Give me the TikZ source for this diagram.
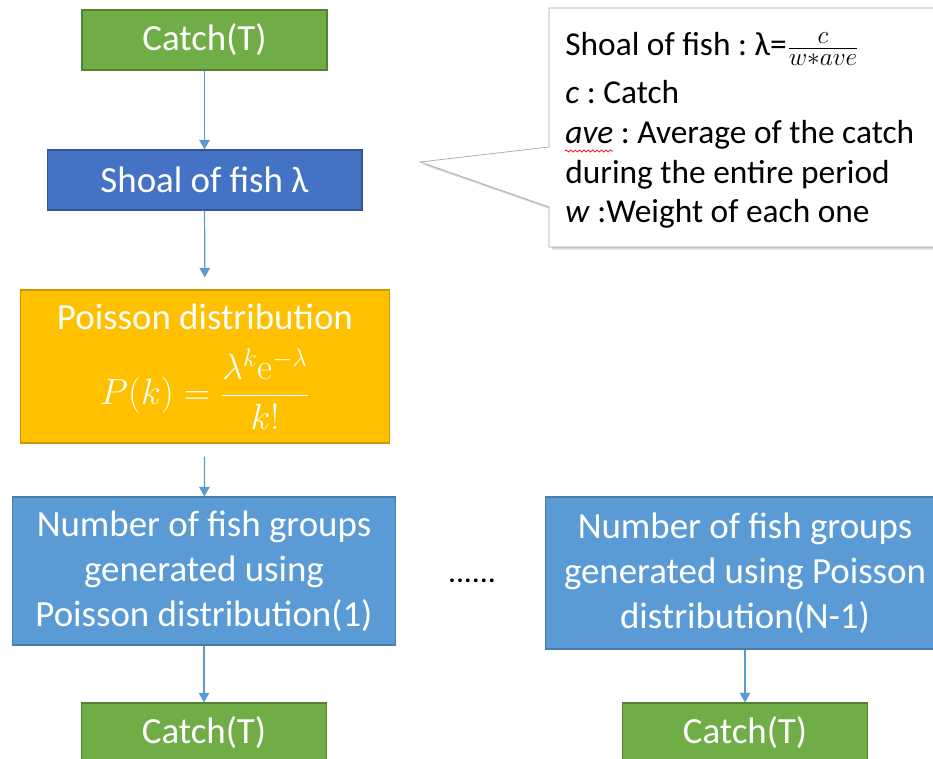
\documentclass[tikz,border=0pt]{standalone}
\usepackage{fontspec}
\setmainfont{Carlito}
\setmathrm{Latin Modern Roman}
\usetikzlibrary{arrows.meta,shadows,decorations.pathmorphing}

\definecolor{catchgreen}{HTML}{70AD47}
\definecolor{shoalblue}{HTML}{4472C4}
\definecolor{poissongold}{HTML}{FFC000}
\definecolor{groupblue}{HTML}{5B9BD5}

\tikzset{
	box/.style={draw, line width=0.6pt, text=white, align=center, inner sep=0pt,
		font=\fontsize{21}{25.5}\selectfont},
	catchbox/.style={box, fill=catchgreen, draw=catchgreen!75!black, minimum width=4.9cm, minimum height=1.2cm},
	shoalbox/.style={box, fill=shoalblue, draw=shoalblue!75!black, minimum width=6.3cm, minimum height=1.2cm},
	poissonbox/.style={box, fill=poissongold, draw=poissongold!80!black, minimum width=7.4cm, minimum height=3.06cm},
	groupbox/.style={box, fill=groupblue, draw=groupblue!80!black, minimum width=7.68cm, minimum height=2.96cm},
	link/.style={->, >={Triangle[length=5.5pt,width=6pt]}, groupblue, line width=0.7pt},
}

\begin{document}
\frenchspacing
\begin{tikzpicture}[x=0.02cm,y=-0.02cm]
	\useasboundingbox (0,0) rectangle (933,759);

	%LEFT COLUMN
	\node[catchbox] (catchtop) at (204.5,40) {Catch(T)};
	\node[shoalbox] (shoal) at (204.5,180) {Shoal of fish λ};
	\node[poissonbox] (poisson) at (205,366.5) {Poisson distribution\\[10pt]
		$\displaystyle P(k)=\frac{\lambda^{k}\mathrm{e}^{-\lambda}}{k!}$};
	\node[groupbox] (group1) at (204,571) {Number of fish groups\\ generated using\\ Poisson distribution(1)};
	\node[catchbox] (catch1) at (204,733) {Catch(T)};

	%RIGHT COLUMN
	\node[groupbox, minimum width=8cm, minimum height=3.04cm] (group2) at (745,573) {Number of fish groups\\ generated using Poisson\\ distribution(N-1)};
	\node[catchbox] (catch2) at (745,733) {Catch(T)};
	\node[font=\fontsize{18}{20}\selectfont] (dots) at (472,581) {......};

	\draw[link] (catchtop) -- (shoal);
	\draw[link, shorten >=0.24cm] (shoal) -- (poisson);
	\draw[link, shorten <=0.26cm] (poisson) -- (group1);
	\draw[link] (group1) -- (catch1);
	\draw[link] (group2) -- (catch2);

	%CALLOUT
	\draw[gray!70, fill=white, drop shadow={shadow xshift=1.5pt, shadow yshift=-1.5pt, opacity=0.3}]
		(549,8) -- (945,8) -- (945,247) -- (549,247) -- (549,207) -- (420,162) -- (549,147) -- cycle;
	\node[anchor=north west, align=left, inner sep=0pt, font=\fontsize{19}{22.7}\selectfont] (note) at (565,32)
		{Shoal of fish : λ=$\frac{c}{w{\ast}ave}$\\[4.5pt]
		\textit{c} : Catch\\
		\textit{ave} : Average of the catch\\
		during the entire period\\
		\textit{w} :Weight of each one};
	\draw[red, line width=0.4pt, decorate, decoration={snake, amplitude=0.6pt, segment length=2.5pt}]
		(565,151) -- (613,151);	%spell check mark
\end{tikzpicture}
\end{document}
